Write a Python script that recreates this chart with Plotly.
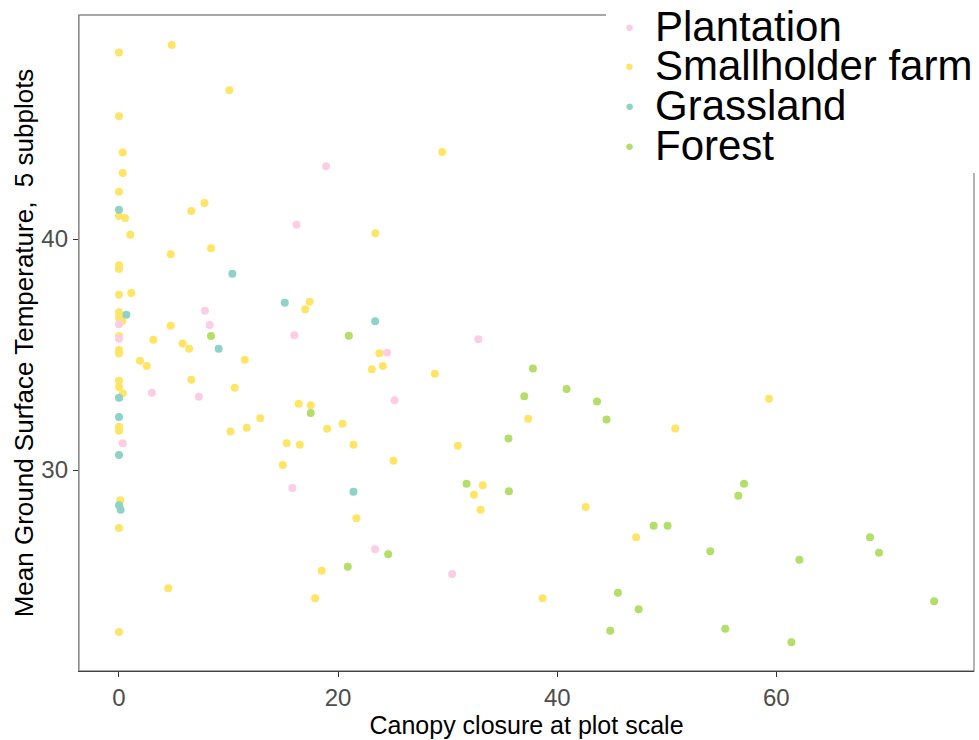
import plotly.graph_objects as go

# ---- data ----
plantation_x = [18.9, 16.2, 0, 7.85, 8.28, 0, 3.0, 7.28, 0.34, 16.0, 32.8, 24.47, 25.15, 15.83, 23.38, 30.41]
plantation_y = [43.15, 40.62, 36.31, 36.9, 36.28, 35.68, 33.35, 33.17, 31.16, 35.84, 35.66, 35.08, 33.02, 29.22, 26.57, 25.5]

smallholder_x = [0, 4.81, 10.07, 0, 0.34, 0.34, 0, 0, 0.55, 7.8, 6.6, 29.5, 23.4, 1.03, 8.4, 4.72, 0, 0, 0, 1.12,
                 0, 0, 0.3, 4.72, 0, 3.13, 5.8, 6.4, 0, 0, 11.48, 1.92, 2.53, 6.6, 0, 0, 0.34, 10.56, 12.9, 0,
                 0, 11.66, 10.17, 0.12, 0, 4.5, 0, 17.4, 17.0, 23.77, 23.08, 24.08, 28.83, 37.35, 16.4, 17.5, 20.4,
                 19.0, 15.3, 16.5, 21.4, 30.93, 14.95, 25.05, 33.2, 32.4, 33.0, 42.6, 21.67, 18.5, 17.9, 38.66,
                 50.77, 59.33, 47.2]
smallholder_y = [48.08, 48.4, 46.44, 45.32, 43.75, 42.86, 42.05, 41.0, 40.91, 41.56, 41.21, 43.77, 40.25, 40.19, 39.6,
                 39.34, 38.87, 38.70, 37.59, 37.66, 36.83, 36.6, 36.45, 36.25, 35.8, 35.64, 35.48, 35.25, 35.2, 35.05,
                 34.78, 34.73, 34.5, 33.91, 33.87, 33.6, 33.32, 33.56, 32.24, 31.87, 31.70, 31.83, 31.67, 28.69, 27.49,
                 24.88, 22.99, 37.29, 36.96, 35.06, 34.36, 34.5, 34.17, 32.22, 32.87, 32.81, 32.0, 31.79, 31.16, 31.1,
                 31.1, 31.05, 30.22, 30.4, 29.34, 28.93, 28.28, 28.4, 27.91, 25.64, 24.45, 24.45, 31.8, 33.09, 27.09]

grassland_x = [0, 10.35, 0.67, 9.1, 0, 0, 0, 0, 0.15, 15.13, 23.38, 21.4]
grassland_y = [41.27, 38.5, 36.72, 35.25, 33.13, 32.3, 30.65, 28.48, 28.28, 37.24, 36.44, 29.06]

forest_x = [8.4, 20.98, 37.78, 40.85, 36.99, 43.63, 44.5, 17.5, 35.55, 31.72, 35.59, 24.57, 20.88, 57.05, 56.53,
            48.8, 50.07, 53.97, 68.55, 69.37, 62.1, 45.54, 47.43, 44.84, 55.34, 61.37, 74.4]
forest_y = [35.8, 35.81, 34.4, 33.51, 33.2, 32.97, 32.19, 32.47, 31.37, 29.41, 29.08, 26.35, 25.81, 29.41, 28.89,
            27.59, 27.59, 26.48, 27.09, 26.42, 26.12, 24.69, 23.97, 23.04, 23.13, 22.55, 24.32]

categories = ["Plantation", "Smallholder farm", "Grassland", "Forest"]
colors = {"Plantation": "#FCCDE5", "Smallholder farm": "#FFE566", "Grassland": "#8DD3C7", "Forest": "#B3DE69"}
x_ticks = [0, 20, 40, 60]
y_ticks = [30, 40]

series = {
    "Plantation": (plantation_x, plantation_y),
    "Smallholder farm": (smallholder_x, smallholder_y),
    "Grassland": (grassland_x, grassland_y),
    "Forest": (forest_x, forest_y),
}

FONT = "Liberation Sans, Arial, sans-serif"

fig = go.Figure()
for name in ["Smallholder farm", "Plantation", "Grassland", "Forest"]:
    xs, ys = series[name]
    fig.add_trace(go.Scatter(x=xs, y=ys, mode="markers", name=name, showlegend=False,
                             marker=dict(size=8, color=colors[name], line=dict(width=0))))

shapes = [
    dict(type="rect", xref="paper", yref="paper", x0=0, x1=1, y0=0, y1=1,
         line=dict(color="#8C8C8C", width=1.3), fillcolor="rgba(0,0,0,0)", layer="below"),
    dict(type="rect", xref="paper", yref="paper", x0=0.5888, x1=1.02, y0=0.7591, y1=1.05,
         line=dict(width=0), fillcolor="white", layer="above"),
]
annotations = []
leg_y = [0.983, 0.9227, 0.8613, 0.8008]
for cat, yy in zip(categories, leg_y):
    annotations.append(dict(xref="paper", yref="paper", x=0.6156, y=yy, text="●", showarrow=False,
                            xanchor="center", yanchor="middle",
                            font=dict(size=15, color=colors[cat], family=FONT)))
    annotations.append(dict(xref="paper", yref="paper", x=0.6415, y=yy, text=cat, showarrow=False,
                            xanchor="left", yanchor="middle",
                            font=dict(size=42, color="black", family=FONT)))

fig.update_layout(
    width=979, height=740,
    margin=dict(l=79, r=5, t=15, b=69),
    paper_bgcolor="white", plot_bgcolor="white",
    font=dict(family=FONT),
    shapes=shapes, annotations=annotations,
    xaxis=dict(range=[-3.65, 78.04], tickvals=x_ticks, ticks="outside", ticklen=5, tickcolor="#333333",
               showgrid=False, zeroline=False, showline=True, linecolor="#444444", linewidth=1.3,
               tickfont=dict(size=24, color="#4D4D4D"),
               title=dict(text="Canopy closure at plot scale", font=dict(size=25, color="black"), standoff=3)),
    yaxis=dict(range=[21.30, 49.70], tickvals=y_ticks, ticks="outside", ticklen=5, tickcolor="#333333",
               showgrid=False, zeroline=False, showline=True, linecolor="#8C8C8C", linewidth=1.3,
               tickfont=dict(size=24, color="#4D4D4D"),
               title=dict(text="Mean Ground Surface Temperature,  5 subplots", font=dict(size=26, color="black"),
                          standoff=0)),
)

fig.write_html("out.html")
